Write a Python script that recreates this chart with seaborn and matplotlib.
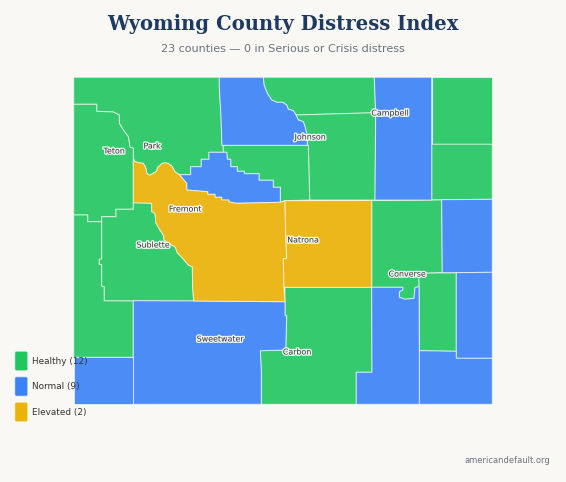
import matplotlib
matplotlib.use("Agg")
import matplotlib.pyplot as plt
import matplotlib.patheffects as pe
from matplotlib.patches import Polygon, FancyBboxPatch
import seaborn as sns

# ---- data: status of each county and outlines ----
status_names = ["Healthy", "Normal", "Elevated"]
status_counts = [12, 9, 2]
title_text = "Wyoming County Distress Index"
subtitle_text = "23 counties \u2014 0 in Serious or Crisis distress"
source_text = "americandefault.org"

# shared borders
teton_park = [(73.7,104.3),(96.7,104.3),(96.7,111.3),(113.3,112),(119.3,115),(119.3,123.3),(123.3,130),(128.3,136.7),(130,147.3),(133.3,148.3),(133.3,158.3)]
park_fremont = [(133.3,158.3),(135,161.5),(138.3,162.7),(143.3,163.3),(146,168.3),(146.7,173),(149.3,175.3),(153,173.5),(156.7,171),(157.5,167.5),(159.3,166),(162,163.5),(165,162.7),(168.5,163.7),(171.7,166),(175,171.7),(179.3,174.7)]
park_hotsprings = [(179.3,174.7),(190.7,174.7),(190.7,166.7),(201.3,166.7),(201.3,159.3),(209,159.3),(209,152.3),(223.3,152.3)]
hotsprings_washakie = [(223.3,152.3),(226.7,152.3),(227.3,159.3),(230.7,159.3),(230.7,166.7),(237.3,166.7),(237.3,171.3),(244.3,171.3),(244.3,173.7),(259,173.7),(259,180.3),(273.3,180.3),(273.3,187.3),(280.3,187.3),(280.3,202.3)]
hotsprings_fremont = [(280.3,202.3),(236.7,203.3),(229.3,202),(228.7,200),(221.7,200),(221.7,197.3),(215,197.3),(215,194.3),(207.7,194.3),(207.7,191.7),(186.7,190),(186.7,183.3),(179.3,174.7)]
fremont_sublette = [(133.3,202.7),(151.7,203.3),(151.7,211.7),(155,213.3),(156,223.3),(160,230),(163.3,235),(164,240),(171.7,245),(175,246.7),(177.3,252.7),(182.7,258.3),(188.3,265),(192.3,266.7),(192.7,287.3),(193.7,301)]
fremont_natrona = [(285,301.7),(284,287.3),(283.3,259),(286.7,258.3),(285.7,233.3),(285,200.7)]
bighorn_sheridan = [(263.3,77.3),(264,85),(267.3,93.3),(271.7,100),(276.7,102.3),(282.7,102.3),(286.7,105),(288.3,109.3),(293.3,110.7),(296,115)]
bighorn_johnson = [(296,115),(298.3,120),(303.3,121.7),(305,126.7),(306.7,133.3),(307.3,145.3)]
converse_albany = [(371.7,287.3),(402.7,287.3),(402.7,290),(399.3,291.7),(399.3,297.3),(405,299.3),(414,298.3),(415,287.7),(419,286.7)]
carbon_sweetwater = [(285,301.7),(285,315.3),(286.7,316),(285.7,350),(260.3,350.7),(261.3,371.7),(261.3,404.3)]

park = [(73.7,77.3),(219.3,77.3),(219.3,86.7),(221,116.7),(222,145.3),(223.3,145.3)] + park_hotsprings[::-1] + park_fremont[::-1] + teton_park[::-1]
teton = teton_park + [(133.3,202.7),(133.3,209.3),(116,209.3),(116,216.7),(101.7,216.7),(101.7,221.7),(87.7,221.7),(87.7,215),(73.7,215)]
bighorn = [(219.3,77.3)] + bighorn_sheridan + bighorn_johnson + [(222,145.3),(221,116.7),(219.3,86.7)]
sheridan = bighorn_sheridan + [(375.7,112.7),(374.3,77.3)]
johnson = bighorn_johnson[::-1] + [(375.7,112.7),(375,200),(309.7,200),(309,174),(308.3,145.3)]
washakie = [(223.3,145.3),(308.3,145.3),(309,174),(309.7,200),(285,200.7)] + hotsprings_washakie[::-1]
hotsprings = park_hotsprings + hotsprings_washakie + hotsprings_fremont
fremont = park_fremont + hotsprings_fremont[::-1] + [(285,200.7)] + fremont_natrona[::-1] + fremont_sublette[::-1]
natrona = fremont_natrona[1:][::-1] + [(371.7,287.3),(371.7,200.5)]
campbell = [(374.3,77.3),(431.7,77.3),(431.7,200),(375,200),(375.7,112.7)]
crook = [(431.7,77.3),(492.3,77.3),(492.3,144.2),(431.7,144.2)]
weston = [(431.7,144.2),(492.3,144.2),(492.3,199.3),(441.7,199.7),(431.7,200)]
converse = [(371.7,200.5),(441.7,200),(442.3,272.7),(419,273.3)] + converse_albany[::-1]
niobrara = [(441.7,199.7),(492.3,199.3),(492.3,272.3),(442.3,272.7)]
goshen = [(456.3,272.7),(492.3,272.3),(492.3,358.3),(456.3,358.3)]
platte = [(419,273.3),(456.3,272.7),(456.3,351.3),(419.3,350.7)]
laramie = [(419.3,350.7),(456.3,351.3),(456.3,358.3),(492.3,358.3),(492.3,404.3),(419.3,404.3)]
albany = converse_albany + [(419.3,350.7),(419.3,404.3),(356.3,404.3),(356.3,372.3),(372,372.3)]
carbon = [(285,287.3),(371.7,287.3),(372,372.3),(356.3,372.3),(356.3,404.3),(261.3,404.3)] + carbon_sweetwater[::-1][1:]
sweetwater = [(133.3,300.7),(193.7,301)] + carbon_sweetwater + [(133.3,404.3)]
uinta = [(73.7,357.3),(133.3,357.3),(133.3,404.3),(73.7,404.3)]
lincoln = [(73.7,215),(87.7,215),(87.7,221.7),(101.7,221.7),(101.7,259),(99.3,259.3),(99.3,264.3),(101.7,264.3),(101.7,286),(104.3,286.7),(104.3,300.7),(133.3,300.7),(133.3,357.3),(73.7,357.3)]
sublette = [(101.7,216.7),(116,216.7),(116,209.3),(133.3,209.3)] + fremont_sublette + [(104.3,300.7),(104.3,286.7),(101.7,286),(101.7,264.3),(99.3,264.3),(99.3,259.3),(101.7,259),(101.7,221.7)]

healthy_counties = [park, teton, sheridan, johnson, washakie, crook, weston, converse, platte, carbon, lincoln, sublette]
normal_counties = [bighorn, hotsprings, campbell, niobrara, goshen, laramie, albany, sweetwater, uinta]
elevated_counties = [fremont, natrona]

label_names = ["Park", "Teton", "Johnson", "Campbell", "Fremont", "Sublette", "Natrona", "Converse", "Sweetwater", "Carbon"]
label_x = [152, 114, 310, 390, 185, 153, 303, 407, 220, 297]
label_y = [146, 151, 137, 113, 209, 245, 240, 274, 339, 352]

# ---- drawing ----
sns.set_theme(style="white")
plt.rcParams["font.family"] = ["DejaVu Sans"]
BG = "#faf8f5"
fills = sns.color_palette(["#34ca6d", "#4c8cf6", "#ebb71a"])
swatches = sns.color_palette(["#22c55e", "#3b82f6", "#eab308"])

fig = plt.figure(figsize=(5.66, 4.82), dpi=100, facecolor=BG)
ax = fig.add_axes([0, 0, 1, 1])
ax.set_xlim(0, 566)
ax.set_ylim(482, 0)
ax.axis("off")

for group, colour in zip([healthy_counties, normal_counties, elevated_counties], fills):
    for outline in group:
        ax.add_patch(Polygon(outline, closed=True, facecolor=colour,
                             edgecolor=(1, 1, 1, 0.62), linewidth=0.75, joinstyle="round"))

halo = [pe.withStroke(linewidth=2.0, foreground=(1, 1, 1, 0.9))]
for name, x, y in zip(label_names, label_x, label_y):
    ax.text(x, y, name, ha="center", va="center", fontsize=5.7, color="#333333", path_effects=halo)

ax.text(283, 23.5, title_text, ha="center", va="center", family="DejaVu Serif",
        fontweight="bold", fontsize=14.1, color="#1e3a5f")
ax.text(283, 49.5, subtitle_text, ha="center", va="center", fontsize=8.0, color="#6b7280")
ax.text(550, 460.5, source_text, ha="right", va="center", fontsize=6.05, color="#6b7280")

for i, (name, count, colour) in enumerate(zip(status_names, status_counts, swatches)):
    top = 351 + i * 25.5
    ax.add_patch(FancyBboxPatch((14.5, top), 13.5, 20, boxstyle="round,pad=0,rounding_size=2",
                                facecolor=colour, edgecolor=(1, 1, 1, 0.7), linewidth=1.1))
    ax.text(32, top + 10, f"{name} ({count})", ha="left", va="center", fontsize=6.4, color="#333333")

fig.savefig("out.png", dpi=100, facecolor=BG)
